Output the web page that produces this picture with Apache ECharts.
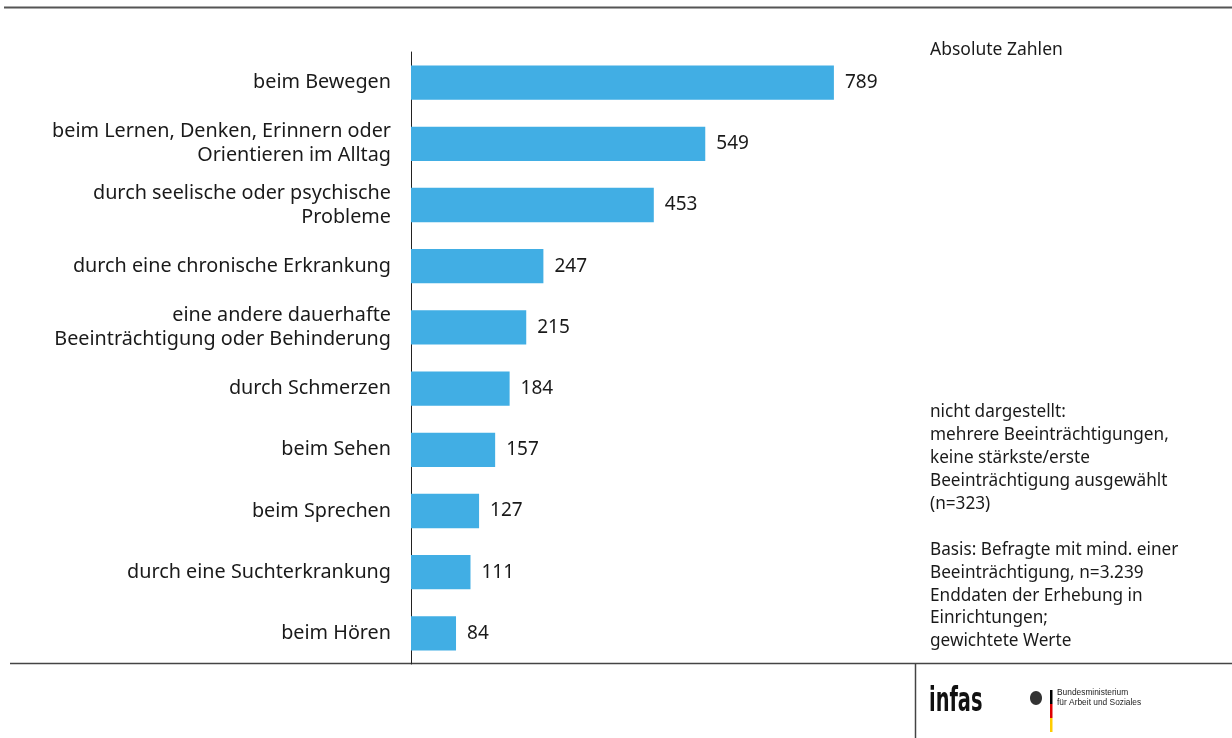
<!DOCTYPE html>
<html><head><meta charset="utf-8">
<script src="https://cdn.jsdelivr.net/npm/echarts@6/dist/echarts.min.js"></script>
<style>html,body{margin:0;padding:0;background:#fff}#c{width:1232px;height:738px}</style>
</head><body><div id="c"></div>
<script>
const categories = [
  "beim Bewegen",
  "beim Lernen, Denken, Erinnern oder\nOrientieren im Alltag",
  "durch seelische oder psychische\nProbleme",
  "durch eine chronische Erkrankung",
  "eine andere dauerhafte\nBeeinträchtigung oder Behinderung",
  "durch Schmerzen",
  "beim Sehen",
  "beim Sprechen",
  "durch eine Suchterkrankung",
  "beim Hören"
];
const values = [789, 549, 453, 247, 215, 184, 157, 127, 111, 84];
const unitNote = "Absolute Zahlen";
const notes = "nicht dargestellt:\nmehrere Beeinträchtigungen,\nkeine stärkste/erste\nBeeinträchtigung ausgewählt\n(n=323)\n\nBasis: Befragte mit mind. einer\nBeeinträchtigung, n=3.239\nEnddaten der Erhebung in\nEinrichtungen;\ngewichtete Werte";

const FONT = "Noto Sans";
const TXT = "#1a1a1a";
const chart = echarts.init(document.getElementById('c'), null, {renderer: 'canvas'});
chart.setOption({
  animation: false,
  backgroundColor: '#fff',
  textStyle: {fontFamily: FONT},
  grid: {left: 411, top: 52, width: 536, height: 612},
  xAxis: {type: 'value', min: 0, max: 1000, show: false},
  yAxis: {
    type: 'category', data: categories, inverse: true,
    axisLine: {show: true, lineStyle: {color: '#222', width: 1}},
    axisTick: {show: false},
    axisLabel: {fontSize: 19.8, lineHeight: 24, color: TXT, margin: 20, align: 'right', fontFamily: FONT, padding: [3, 0, 0, 0]}
  },
  series: [{
    type: 'bar', data: values, barCategoryGap: '44%',
    itemStyle: {color: '#41AEE4'},
    label: {show: true, position: 'right', distance: 11, fontSize: 19, color: TXT, fontFamily: FONT, padding: [3, 0, 0, 0]}
  }],
  graphic: [
    {type: 'line', shape: {x1: 4, y1: 7.5, x2: 1232, y2: 7.5}, style: {stroke: '#555', lineWidth: 2}},
    {type: 'line', shape: {x1: 10, y1: 663.5, x2: 1232, y2: 663.5}, style: {stroke: '#444', lineWidth: 1.5}},
    {type: 'line', shape: {x1: 915.5, y1: 663, x2: 915.5, y2: 738}, style: {stroke: '#444', lineWidth: 1.5}},
    {type: 'text', left: 930, top: 41, style: {text: unitNote, font: '17.5px "Noto Sans"', fill: TXT}},
    {type: 'text', left: 930, top: 401, style: {text: notes, font: '17.2px "Noto Sans"', lineHeight: 22.9, fill: TXT}},
    {type: 'text', x: 929, y: 685, scaleX: 0.57, style: {text: 'infas', font: 'bold 34px "DejaVu Sans"', fill: '#111'}},
    {type: 'ellipse', shape: {cx: 1036, cy: 698, rx: 6, ry: 7}, style: {fill: '#333'}},
    {type: 'rect', shape: {x: 1050, y: 690, width: 2.5, height: 14}, style: {fill: '#000'}},
    {type: 'rect', shape: {x: 1050, y: 704, width: 2.5, height: 14}, style: {fill: '#DD0000'}},
    {type: 'rect', shape: {x: 1050, y: 718, width: 2.5, height: 14}, style: {fill: '#FFCC00'}},
    {type: 'text', x: 1057, y: 688, scaleX: 0.93, style: {text: 'Bundesministerium\nfür Arbeit und Soziales', font: '9px "Liberation Sans"', lineHeight: 9.5, fill: '#222'}}
  ]
});
</script></body></html>
